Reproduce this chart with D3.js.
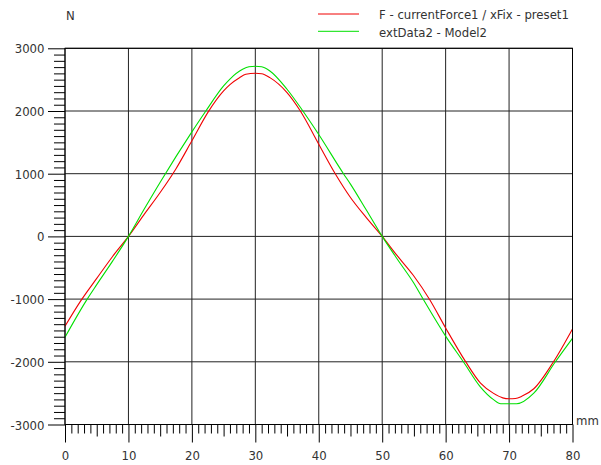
<!DOCTYPE html>
<meta charset="utf-8">
<style>

body {
  margin: 0;
  background: #fff;
}

text {
  font-family: "DejaVu Sans Condensed", "DejaVu Sans", sans-serif;
  font-size: 13px;
  fill: #333;
}

.grid line {
  stroke: #222;
  stroke-width: 1;
}

.curve {
  fill: none;
  stroke-width: 1.1;
}

</style>
<body>
<script src="https://cdnjs.cloudflare.com/ajax/libs/d3/7.8.5/d3.min.js"></script>
<script>

// values (x in mm, F in N)
var redX = [0, 2.4, 5, 7.5, 10, 12.4, 15, 17.5, 20, 22.6, 25, 26, 27.5, 28.5, 30, 31, 32.3, 35, 37.1, 40, 42.6, 45, 47.5, 50, 52.3, 54.9, 57.5, 60, 63.1, 65.5, 67.5, 69, 70, 71, 72, 73.9, 77, 80];
var redY = [-1433, -1040, -670, -320, 0, 340, 700, 1080, 1524, 1990, 2320, 2420, 2530, 2585, 2602, 2595, 2532, 2293, 2000, 1471, 1000, 621, 300, 0, -300, -620, -1010, -1460, -1990, -2340, -2500, -2575, -2590, -2585, -2550, -2430, -2000, -1475];

var greenX = [0, 3.5, 5, 7.5, 10, 12.4, 15.1, 20, 22.2, 25, 26, 28, 29, 30, 31, 32.3, 35, 37.5, 40, 43.9, 45, 47.5, 50, 52.5, 54.9, 56.4, 60, 62.8, 65.5, 67.5, 68.7, 70, 71.2, 73.9, 77.3, 80];
var greenY = [-1608, -1000, -770, -395, 0, 420, 880, 1667, 2000, 2400, 2510, 2665, 2705, 2713, 2705, 2639, 2347, 2000, 1625, 1000, 834, 420, 0, -380, -732, -990, -1590, -2000, -2404, -2600, -2669, -2669, -2669, -2500, -2000, -1624];

var xTicks = [0, 10, 20, 30, 40, 50, 60, 70, 80];
var yTicks = [-3000, -2000, -1000, 0, 1000, 2000, 3000];

var series = [
  {name: "F - currentForce1 / xFix - preset1", color: "#f00000", x: redX, y: redY},
  {name: "extData2 - Model2", color: "#00e000", x: greenX, y: greenY}
];

var width = 601,
    height = 465,
    plotLeft = 65,
    plotRight = 572.5,
    plotTop = 48.3,
    plotBottom = 424.5;

var svg = d3.select("body").append("svg")
    .attr("width", width)
    .attr("height", height);

var x = d3.scaleLinear().domain([0, 80]).range([plotLeft, plotRight]);
var y = d3.scaleLinear().domain([-3000, 3000]).range([plotBottom, plotTop]);

// grid
var grid = svg.append("g").attr("class", "grid");
grid.selectAll(".gx")
    .data(xTicks)
  .enter().append("line")
    .attr("x1", x).attr("x2", x)
    .attr("y1", plotTop).attr("y2", plotBottom);
grid.selectAll(".gy")
    .data(yTicks)
  .enter().append("line")
    .attr("y1", y).attr("y2", y)
    .attr("x1", plotLeft).attr("x2", plotRight);

// curves
var line = d3.line()
    .x(function(d) { return x(d[0]); })
    .y(function(d) { return y(d[1]); })
    .curve(d3.curveMonotoneX);

svg.selectAll(".curve")
    .data(series)
  .enter().append("path")
    .attr("class", "curve")
    .attr("stroke", function(d) { return d.color; })
    .attr("d", function(d) { return line(d.x.map(function(v, i) { return [v, d.y[i]]; })); });

// frame
svg.append("rect")
    .attr("x", plotLeft).attr("y", plotTop)
    .attr("width", plotRight - plotLeft).attr("height", plotBottom - plotTop)
    .attr("fill", "none")
    .attr("stroke", "#000");

// x axis, ticks below
var xAxis = d3.axisBottom(x)
    .tickValues(d3.range(0, 81, 1))
    .tickSize(0)
    .tickFormat("");
var gx = svg.append("g")
    .attr("transform", "translate(0," + plotBottom + ")")
    .call(xAxis);
gx.select(".domain").remove();
gx.selectAll(".tick line")
    .attr("stroke", "#000")
    .attr("y2", function(d) { return d % 10 === 0 ? 18 : (d % 5 === 0 ? 12 : 9); });
gx.selectAll(".tick")
    .filter(function(d) { return d % 10 === 0; })
  .append("text")
    .attr("y", 35.5)
    .attr("text-anchor", "middle")
    .text(function(d) { return d; });

// y axis, ticks to the left
var yAxis = d3.axisLeft(y)
    .tickValues(d3.range(-3000, 3001, 100))
    .tickSize(0)
    .tickFormat("");
var gy = svg.append("g")
    .attr("transform", "translate(" + plotLeft + ",0)")
    .call(yAxis);
gy.select(".domain").remove();
gy.selectAll(".tick line")
    .attr("stroke", "#000")
    .attr("x2", function(d) { return d % 1000 === 0 ? -17 : -11; });
gy.selectAll(".tick")
    .filter(function(d) { return d % 1000 === 0; })
  .append("text")
    .attr("x", -20.5)
    .attr("y", 4.5)
    .attr("text-anchor", "end")
    .text(function(d) { return d; });

// unit labels
svg.append("text").attr("x", 66).attr("y", 20).text("N");
svg.append("text").attr("x", 576).attr("y", 425).text("mm");

// legend
var legend = svg.selectAll(".legend")
    .data(series)
  .enter().append("g")
    .attr("transform", function(d, i) { return "translate(0," + (14 + i * 17.3) + ")"; });
legend.append("line")
    .attr("x1", 318).attr("x2", 359)
    .attr("stroke", function(d) { return d.color; });
legend.append("text")
    .attr("x", 379)
    .attr("y", 5.2)
    .text(function(d) { return d.name; });

</script>
